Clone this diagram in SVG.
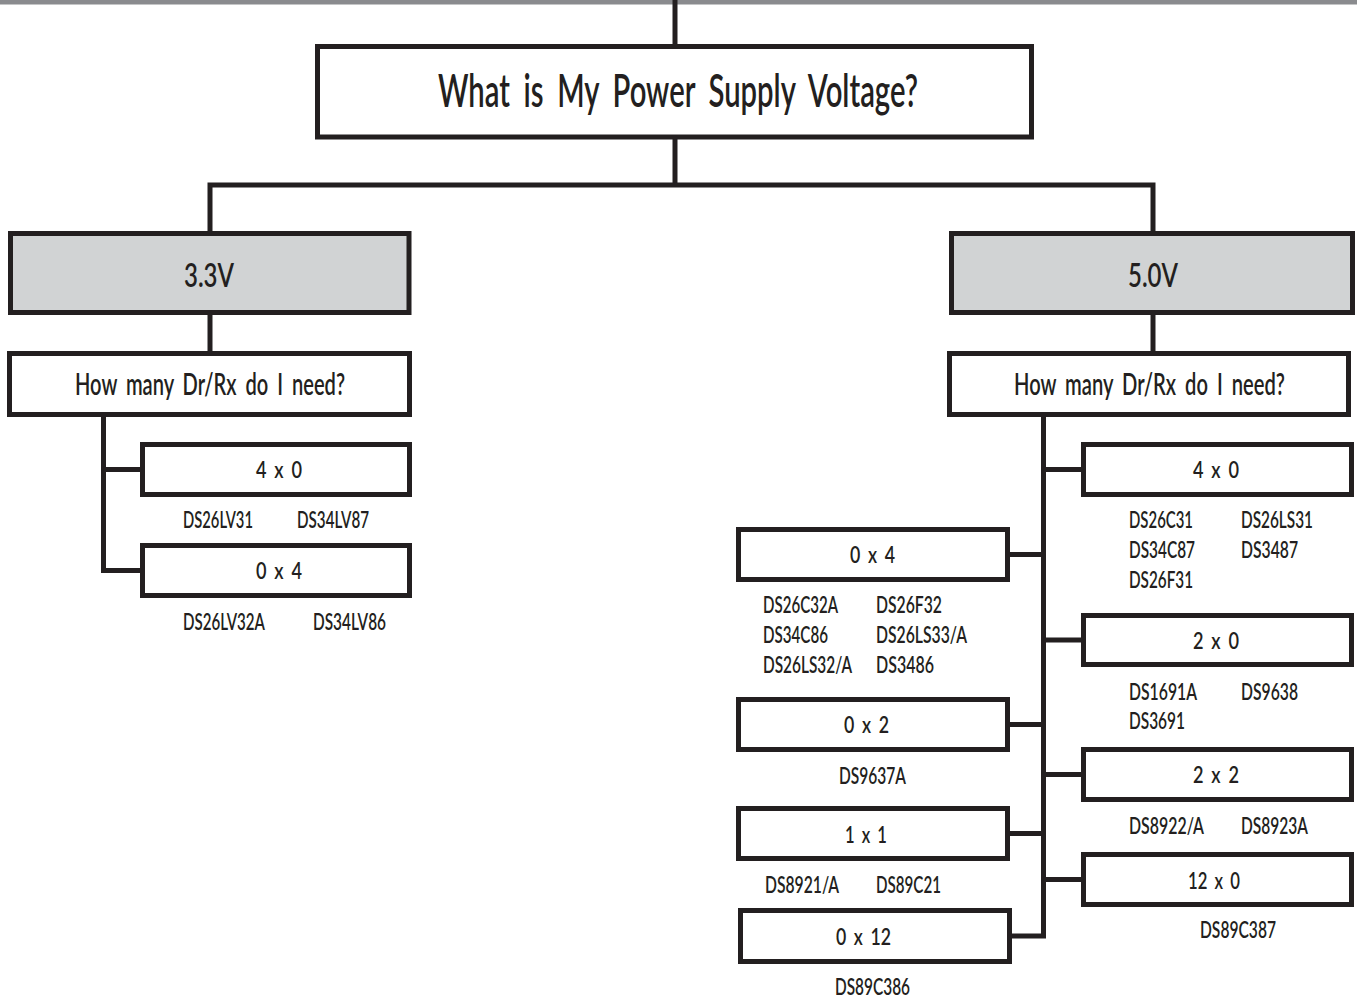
<svg xmlns="http://www.w3.org/2000/svg" width="1357" height="1000" viewBox="0 0 1357 1000">
<style>
.box{fill:#fff;stroke:#231f20;stroke-width:5}
.gbox{fill:#d1d3d4;stroke:#231f20;stroke-width:5}
.con{fill:none;stroke:#231f20;stroke-width:5;stroke-linejoin:miter;stroke-linecap:butt}
text{font-family:Lato,"Open Sans","Liberation Sans",sans-serif;fill:#231f20;font-weight:600}
.t1{font-size:46px;word-spacing:10px}
.t2{font-size:32px}
.t3{font-size:30px;word-spacing:6px}
.lbl{font-size:22px;word-spacing:4px}
.code{font-size:22px}
</style>
<rect x="0" y="0" width="1357" height="4.5" fill="#8a8b8e"/>
<g id="connectors">
<path class="con" d="M675 0 V46"/>
<path class="con" d="M675 137 V185"/>
<path class="con" d="M210 233 V185 H1153 V233"/>
<path class="con" d="M210 313 V353"/>
<path class="con" d="M1153 313 V353"/>
<path class="con" d="M103.5 415 V570.5 H142"/>
<path class="con" d="M103.5 469.5 H142"/>
<path class="con" d="M1043.5 415 V936 H1012"/>
<path class="con" d="M1043.5 469.5 H1083"/>
<path class="con" d="M1043.5 640 H1083"/>
<path class="con" d="M1043.5 774.5 H1083"/>
<path class="con" d="M1043.5 879.5 H1083"/>
<path class="con" d="M1043.5 554.5 H1008"/>
<path class="con" d="M1043.5 724.5 H1008"/>
<path class="con" d="M1043.5 833.5 H1008"/>
</g>
<g id="main">
<rect class="box" x="317.5" y="46.5" width="714" height="90.5"/>
<text class="t1" x="438" y="107" textLength="480" lengthAdjust="spacingAndGlyphs">What is My Power Supply Voltage?</text>
</g>
<g id="v33">
<rect class="gbox" x="10.5" y="233.5" width="398.5" height="79"/>
<text class="t2" x="184" y="287" textLength="50" lengthAdjust="spacingAndGlyphs">3.3V</text>
</g>
<g id="v50">
<rect class="gbox" x="951.5" y="233.5" width="401" height="79"/>
<text class="t2" x="1128" y="287" textLength="50" lengthAdjust="spacingAndGlyphs">5.0V</text>
</g>
<g id="howmany-left">
<rect class="box" x="9.5" y="353.5" width="400" height="61"/>
<text class="t3" x="75" y="395" textLength="270" lengthAdjust="spacingAndGlyphs">How many Dr/Rx do I need?</text>
</g>
<g id="howmany-right">
<rect class="box" x="949.5" y="353.5" width="399" height="61"/>
<text class="t3" x="1014" y="395" textLength="271" lengthAdjust="spacingAndGlyphs">How many Dr/Rx do I need?</text>
</g>
<g id="l-4x0">
<rect class="box" x="142.5" y="444.5" width="267" height="50"/>
<text class="lbl" x="256" y="478" textLength="46" lengthAdjust="spacingAndGlyphs">4 x 0</text>
<text class="code" x="183" y="528" textLength="70" lengthAdjust="spacingAndGlyphs">DS26LV31</text>
<text class="code" x="297" y="528" textLength="72" lengthAdjust="spacingAndGlyphs">DS34LV87</text>
</g>
<g id="l-0x4">
<rect class="box" x="142.5" y="545.5" width="267" height="50"/>
<text class="lbl" x="256" y="579" textLength="46" lengthAdjust="spacingAndGlyphs">0 x 4</text>
<text class="code" x="183" y="630" textLength="82" lengthAdjust="spacingAndGlyphs">DS26LV32A</text>
<text class="code" x="313" y="630" textLength="73" lengthAdjust="spacingAndGlyphs">DS34LV86</text>
</g>
<g id="r-4x0">
<rect class="box" x="1083.5" y="444.5" width="268" height="50"/>
<text class="lbl" x="1193" y="478" textLength="46" lengthAdjust="spacingAndGlyphs">4 x 0</text>
<text class="code" x="1129" y="528" textLength="64" lengthAdjust="spacingAndGlyphs">DS26C31</text>
<text class="code" x="1241" y="528" textLength="72" lengthAdjust="spacingAndGlyphs">DS26LS31</text>
<text class="code" x="1129" y="558" textLength="66" lengthAdjust="spacingAndGlyphs">DS34C87</text>
<text class="code" x="1241" y="558" textLength="57" lengthAdjust="spacingAndGlyphs">DS3487</text>
<text class="code" x="1129" y="588" textLength="64" lengthAdjust="spacingAndGlyphs">DS26F31</text>
</g>
<g id="r-0x4">
<rect class="box" x="738.5" y="529.5" width="269" height="50"/>
<text class="lbl" x="850" y="563" textLength="45" lengthAdjust="spacingAndGlyphs">0 x 4</text>
<text class="code" x="763" y="613" textLength="75" lengthAdjust="spacingAndGlyphs">DS26C32A</text>
<text class="code" x="876" y="613" textLength="66" lengthAdjust="spacingAndGlyphs">DS26F32</text>
<text class="code" x="763" y="643" textLength="65" lengthAdjust="spacingAndGlyphs">DS34C86</text>
<text class="code" x="876" y="643" textLength="91" lengthAdjust="spacingAndGlyphs">DS26LS33/A</text>
<text class="code" x="763" y="673" textLength="89" lengthAdjust="spacingAndGlyphs">DS26LS32/A</text>
<text class="code" x="876" y="673" textLength="58" lengthAdjust="spacingAndGlyphs">DS3486</text>
</g>
<g id="r-2x0">
<rect class="box" x="1083.5" y="615.5" width="268" height="49"/>
<text class="lbl" x="1193" y="649" textLength="46" lengthAdjust="spacingAndGlyphs">2 x 0</text>
<text class="code" x="1129" y="700" textLength="68" lengthAdjust="spacingAndGlyphs">DS1691A</text>
<text class="code" x="1241" y="700" textLength="57" lengthAdjust="spacingAndGlyphs">DS9638</text>
<text class="code" x="1129" y="729" textLength="56" lengthAdjust="spacingAndGlyphs">DS3691</text>
</g>
<g id="r-0x2">
<rect class="box" x="738.5" y="699.5" width="269" height="50"/>
<text class="lbl" x="844" y="733" textLength="45" lengthAdjust="spacingAndGlyphs">0 x 2</text>
<text class="code" x="839" y="784" textLength="67" lengthAdjust="spacingAndGlyphs">DS9637A</text>
</g>
<g id="r-2x2">
<rect class="box" x="1083.5" y="749.5" width="268" height="50"/>
<text class="lbl" x="1193" y="783" textLength="46" lengthAdjust="spacingAndGlyphs">2 x 2</text>
<text class="code" x="1129" y="834" textLength="75" lengthAdjust="spacingAndGlyphs">DS8922/A</text>
<text class="code" x="1241" y="834" textLength="67" lengthAdjust="spacingAndGlyphs">DS8923A</text>
</g>
<g id="r-1x1">
<rect class="box" x="738.5" y="808.5" width="269" height="50"/>
<text class="lbl" x="845" y="843" textLength="42" lengthAdjust="spacingAndGlyphs">1 x 1</text>
<text class="code" x="765" y="893" textLength="74" lengthAdjust="spacingAndGlyphs">DS8921/A</text>
<text class="code" x="876" y="893" textLength="65" lengthAdjust="spacingAndGlyphs">DS89C21</text>
</g>
<g id="r-12x0">
<rect class="box" x="1083.5" y="854.5" width="268" height="50"/>
<text class="lbl" x="1188" y="889" textLength="52" lengthAdjust="spacingAndGlyphs">12 x 0</text>
<text class="code" x="1200" y="938" textLength="76" lengthAdjust="spacingAndGlyphs">DS89C387</text>
</g>
<g id="r-0x12">
<rect class="box" x="740.5" y="910.5" width="269" height="51"/>
<text class="lbl" x="836" y="945" textLength="55" lengthAdjust="spacingAndGlyphs">0 x 12</text>
<text class="code" x="835" y="995" textLength="75" lengthAdjust="spacingAndGlyphs">DS89C386</text>
</g>
</svg>
